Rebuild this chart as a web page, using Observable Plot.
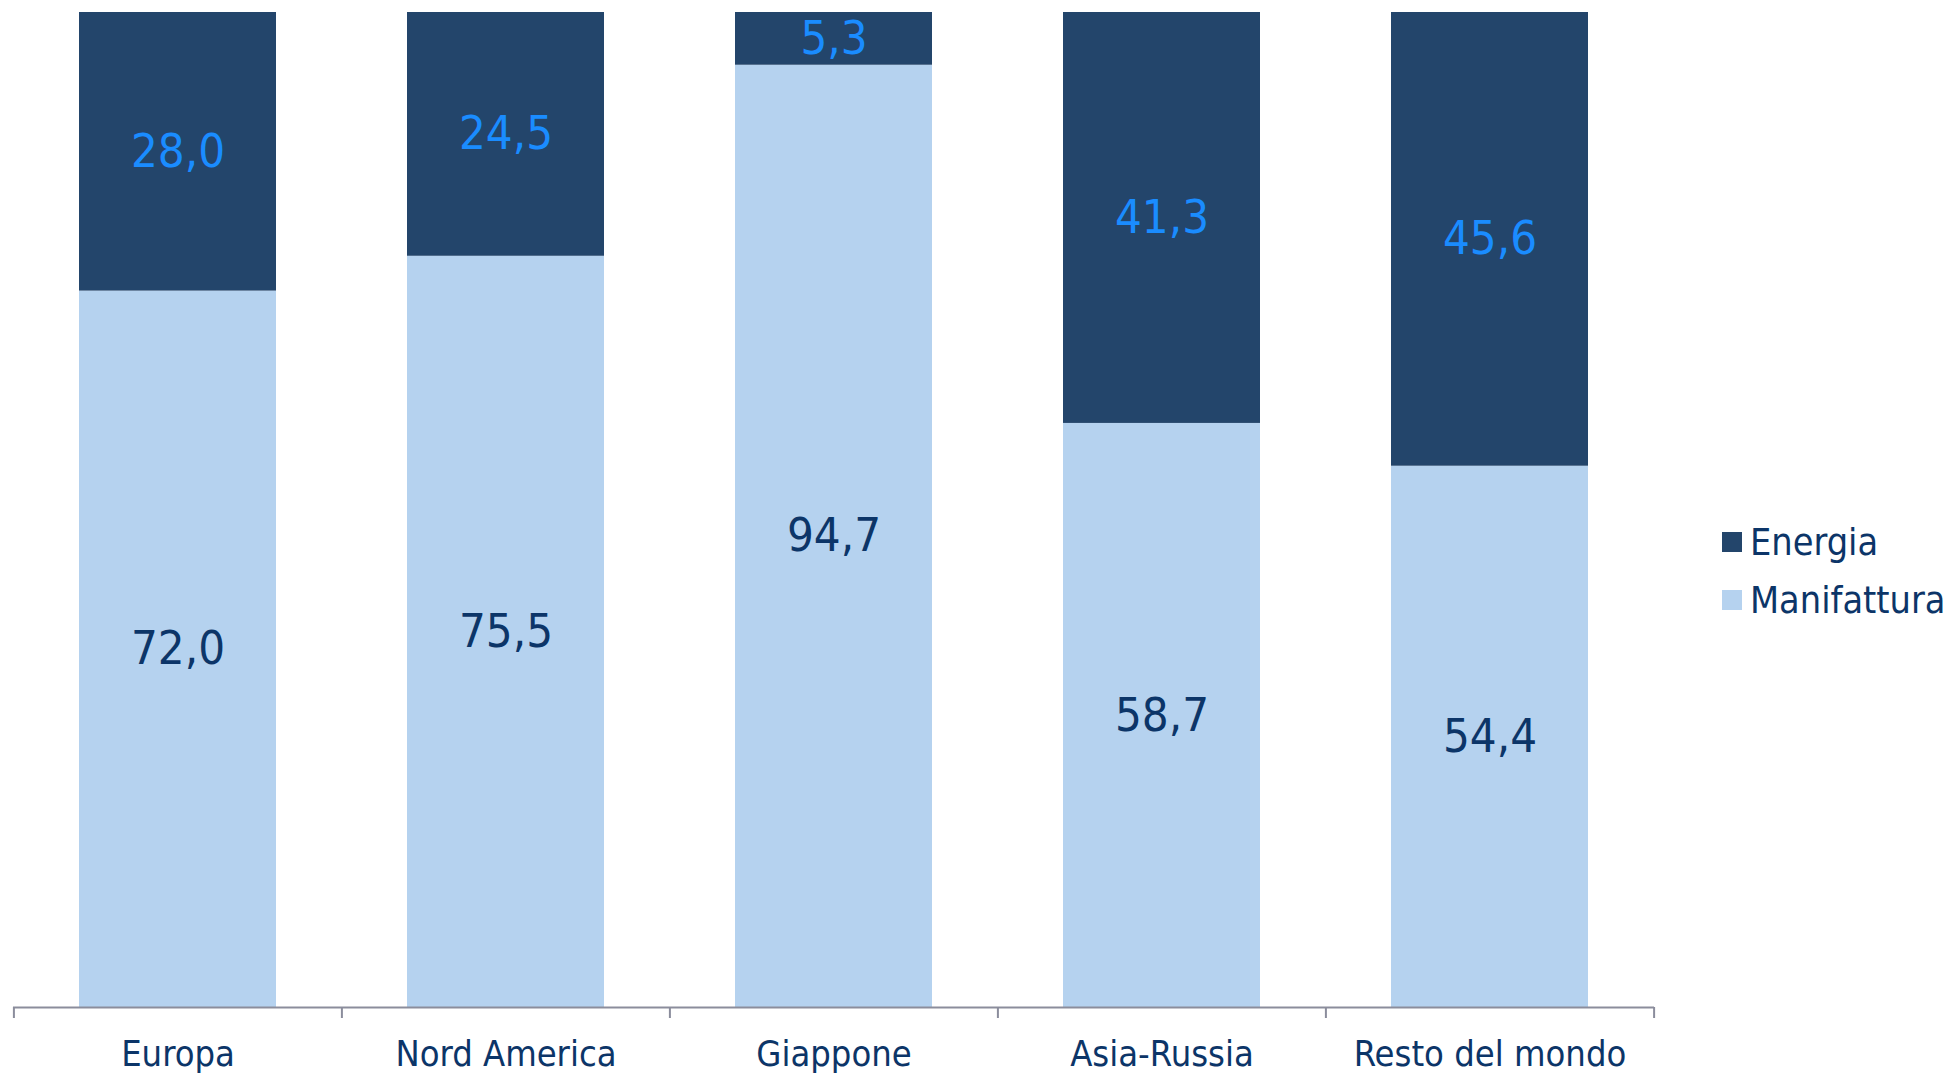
<!DOCTYPE html>
<html>
<head>
<meta charset="utf-8">
<script src="https://cdn.jsdelivr.net/npm/d3@7"></script>
<script src="https://cdn.jsdelivr.net/npm/@observablehq/plot@0.6"></script>
<style>
  html, body { margin: 0; padding: 0; background: #fff; }
  #wrap { position: relative; width: 1948px; height: 1073px; }
  #legend { position: absolute; left: 1722px; top: 522px; font-family: "DejaVu Sans Condensed", "DejaVu Sans", sans-serif; font-size: 37.5px; color: #0c3568; }
  .row { display: flex; align-items: center; height: 40px; margin-bottom: 18px; }
  .sw { width: 20px; height: 20px; margin-right: 8px; }
</style>
</head>
<body>
<div id="wrap">
  <div id="chart"></div>
  <div id="legend"></div>
</div>
<script>
const categories = ["Europa", "Nord America", "Giappone", "Asia-Russia", "Resto del mondo"];
const series = ["Manifattura", "Energia"];
const manifattura = [72.0, 75.5, 94.7, 58.7, 54.4];
const energia = [28.0, 24.5, 5.3, 41.3, 45.6];
const colors = {Manifattura: "#b5d2ef", Energia: "#23456b"};
const labelColors = {Manifattura: "#0c3568", Energia: "#1a8cff"};

const data = [];
categories.forEach((c, i) => {
  data.push({cat: c, series: "Manifattura", value: manifattura[i]});
  data.push({cat: c, series: "Energia", value: energia[i]});
});

const W = 1948, H = 1073;
const mL = 13, mR = 294, mT = 12, mB = 66;
const halfStep = (W - mL - mR) / categories.length / 2;
const fmt = v => v.toFixed(1).replace(".", ",");

const chart = Plot.plot({
  width: W,
  height: H,
  marginLeft: mL,
  marginRight: mR,
  marginTop: mT,
  marginBottom: mB,
  style: {fontFamily: "'DejaVu Sans Condensed', 'DejaVu Sans', sans-serif", background: "#fff"},
  x: {domain: categories, paddingInner: 0.4, paddingOuter: 0.2, axis: null, label: null},
  y: {domain: [0, 100], axis: null},
  marks: [
    Plot.barY(data, Plot.stackY({x: "cat", y: "value", z: "series", order: series, fill: d => colors[d.series]})),
    Plot.text(data, Plot.stackY({x: "cat", y: "value", z: "series", order: series,
      text: d => fmt(d.value), fill: d => labelColors[d.series], fontSize: 47})),
    Plot.ruleY([0], {stroke: "#8b8d9c", strokeWidth: 2}),
    Plot.axisX({tickSize: 0, tickPadding: 33, fontSize: 36, fill: "#0c3568", label: null}),
    Plot.axisX(categories, {text: null, tickSize: 11, dx: -halfStep, stroke: "#8b8d9c", strokeWidth: 2, label: null}),
    Plot.axisX([categories[categories.length - 1]], {text: null, tickSize: 11, dx: halfStep, stroke: "#8b8d9c", strokeWidth: 2, label: null})
  ]
});
document.getElementById("chart").appendChild(chart);

const legend = document.getElementById("legend");
["Energia", "Manifattura"].forEach(s => {
  const row = document.createElement("div");
  row.className = "row";
  const sw = document.createElement("div");
  sw.className = "sw";
  sw.style.background = colors[s];
  const t = document.createElement("span");
  t.textContent = s;
  row.appendChild(sw);
  row.appendChild(t);
  legend.appendChild(row);
});
</script>
</body>
</html>
